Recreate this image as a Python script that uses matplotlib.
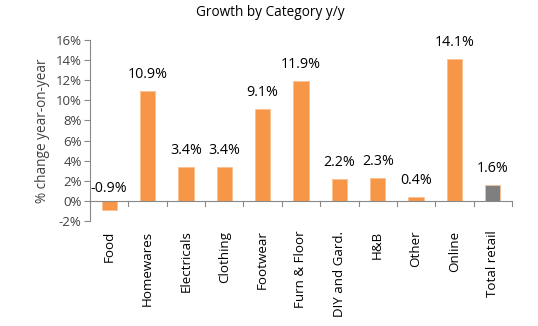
import numpy as np
from matplotlib import pyplot as plt
from matplotlib.ticker import FuncFormatter

categories = ["Food", "Homewares", "Electricals", "Clothing", "Footwear",
              "Furn & Floor", "DIY and Gard.", "H&B", "Other", "Online",
              "Total retail"]
growth = [-0.9, 10.9, 3.4, 3.4, 9.1, 11.9, 2.2, 2.3, 0.4, 14.1, 1.6]
colours = ["#F79646"] * 10 + ["#7F7F7F"]

plt.rcParams["font.family"] = ["Open Sans", "DejaVu Sans"]

fig = plt.figure(figsize=(5.38, 3.26), dpi=100)
ax = fig.add_axes([90 / 538, 1 - 221 / 326, 422 / 538, 181 / 326])

x = np.arange(len(categories))
ax.bar(x, growth, width=0.4, color=colours, edgecolor="#FAC090", linewidth=0.6)

for xi, v in zip(x, growth):
    y = v + 0.9 if v > 0 else 0.5
    ax.text(xi, y, f"{v:.1f}%", ha="center", va="bottom",
            fontsize=10.3, color="black")

ax.set_xlim(-0.5, len(categories) - 0.5)
ax.set_ylim(-2, 16)
ax.set_yticks(np.arange(-2, 17, 2))
ax.yaxis.set_major_formatter(FuncFormatter(lambda v, p: f"{v:.0f}%"))
ax.tick_params(axis="y", labelsize=9.5, colors="#888888", labelcolor="#404040",
               length=4, direction="out", pad=2)

# x axis drawn at zero with ticks between categories
ax.spines["top"].set_visible(False)
ax.spines["right"].set_visible(False)
ax.spines["bottom"].set_visible(False)
ax.spines["left"].set_color("#888888")
ax.axhline(0, color="#888888", lw=0.8, zorder=3)
ax.set_xticks([])
for b in np.arange(0.5, len(categories), 1.0):
    ax.plot([b, b], [0, -0.5], color="#888888", lw=0.8, clip_on=False)

for xi, name in zip(x, categories):
    ax.text(xi, -2.95, name, rotation=90, ha="center", va="top",
            fontsize=9.6, color="black")

ax.set_ylabel("% change year-on-year", fontsize=9.8, color="#404040", labelpad=4)
fig.text(270 / 538, 1 - 13 / 326, "Growth by Category y/y", ha="center",
         va="center", fontsize=9.8, color="black")

fig.savefig("out.png", dpi=100)
